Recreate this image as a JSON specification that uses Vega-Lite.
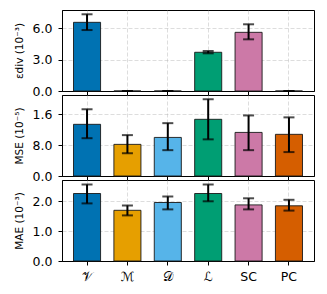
{
  "$schema": "https://vega.github.io/schema/vega-lite/v6.json",
  "padding": {"left": 13, "top": 9, "right": 9, "bottom": 2},
  "spacing": 4,
  "bounds": "flush",
  "config": {
    "font": "DejaVu Sans",
    "view": {"stroke": "#000000", "strokeWidth": 1},
    "axis": {
      "labelFont": "DejaVu Sans", "titleFont": "DejaVu Sans",
      "labelFontSize": 12.5, "titleFontSize": 10.5, "titleFontWeight": "normal",
      "labelColor": "#000000", "titleColor": "#000000",
      "tickColor": "#000000", "domainColor": "#000000", "tickSize": 4,
      "gridColor": "#b0b0b0", "gridOpacity": 0.55, "gridDash": [4, 2], "gridWidth": 0.8,
      "zindex": 1
    }
  },
  "datasets": {
    "m": [
      {"method": "𝒱", "ediv": 6.58, "ediv_lo": 5.84, "ediv_hi": 7.35, "mse": 13.4, "mse_lo": 9.8, "mse_hi": 17.3, "mae": 2.25, "mae_lo": 1.92, "mae_hi": 2.55},
      {"method": "ℳ", "ediv": 0, "ediv_lo": 0, "ediv_hi": 0, "mse": 8.2, "mse_lo": 5.9, "mse_hi": 10.6, "mae": 1.69, "mae_lo": 1.52, "mae_hi": 1.85},
      {"method": "𝒟", "ediv": 0, "ediv_lo": 0, "ediv_hi": 0, "mse": 10.0, "mse_lo": 6.7, "mse_hi": 13.7, "mae": 1.95, "mae_lo": 1.72, "mae_hi": 2.15},
      {"method": "ℒ", "ediv": 3.71, "ediv_lo": 3.61, "ediv_hi": 3.83, "mse": 14.7, "mse_lo": 9.5, "mse_hi": 19.9, "mae": 2.25, "mae_lo": 1.99, "mae_hi": 2.55},
      {"method": "SC", "ediv": 5.62, "ediv_lo": 4.95, "ediv_hi": 6.39, "mse": 11.3, "mse_lo": 6.7, "mse_hi": 15.7, "mae": 1.87, "mae_lo": 1.72, "mae_hi": 2.09},
      {"method": "PC", "ediv": 0, "ediv_lo": 0, "ediv_hi": 0, "mse": 10.8, "mse_lo": 6.2, "mse_hi": 15.2, "mae": 1.84, "mae_lo": 1.68, "mae_hi": 2.04}
    ]
  },
  "vconcat": [
    {
      "width": 252, "height": 81,
      "data": {"name": "m"},
      "encoding": {
        "x": {"field": "method", "type": "nominal", "sort": null,
          "scale": {"paddingInner": 0.33, "paddingOuter": 0.285},
          "axis": {"labels": false, "title": null, "grid": true, "bandPosition": 0.5, "ticks": true}}
      },
      "layer": [
        {"mark": {"type": "bar", "stroke": "#1a1a1a", "strokeWidth": 0.9},
         "encoding": {
           "y": {"field": "ediv", "type": "quantitative", "scale": {"domain": [0, 7.76], "nice": false},
             "axis": {"values": [0, 3, 6], "format": ".1f", "title": "εdiv  (10⁻³)", "titlePadding": 8, "labelPadding": 6, "grid": true}},
           "color": {"field": "method", "type": "nominal", "sort": null, "legend": null,
             "scale": {"range": ["#0072b2", "#e69f00", "#56b4e9", "#009e73", "#cc79a7", "#d55e00"]}}
         }},
        {"mark": {"type": "rule", "color": "#000000", "strokeWidth": 2},
         "encoding": {"y": {"field": "ediv_lo", "type": "quantitative"}, "y2": {"field": "ediv_hi"}}},
        {"mark": {"type": "tick", "color": "#000000", "size": 11, "thickness": 2},
         "encoding": {"y": {"field": "ediv_lo", "type": "quantitative"}}},
        {"mark": {"type": "tick", "color": "#000000", "size": 11, "thickness": 2},
         "encoding": {"y": {"field": "ediv_hi", "type": "quantitative"}}}
      ]
    },
    {
      "width": 252, "height": 81,
      "data": {"name": "m"},
      "encoding": {
        "x": {"field": "method", "type": "nominal", "sort": null,
          "scale": {"paddingInner": 0.33, "paddingOuter": 0.285},
          "axis": {"labels": false, "title": null, "grid": true, "bandPosition": 0.5, "ticks": true}}
      },
      "layer": [
        {"mark": {"type": "bar", "stroke": "#1a1a1a", "strokeWidth": 0.9},
         "encoding": {
           "y": {"field": "mse", "type": "quantitative", "scale": {"domain": [0, 21.0], "nice": false},
             "axis": {"values": [0, 8, 16], "labelExpr": "datum.value == 16 ? '1.6' : format(datum.value, '.1f')", "title": "MSE  (10⁻⁵)", "titlePadding": 8, "labelPadding": 6, "grid": true}},
           "color": {"field": "method", "type": "nominal", "sort": null, "legend": null,
             "scale": {"range": ["#0072b2", "#e69f00", "#56b4e9", "#009e73", "#cc79a7", "#d55e00"]}}
         }},
        {"mark": {"type": "rule", "color": "#000000", "strokeWidth": 2},
         "encoding": {"y": {"field": "mse_lo", "type": "quantitative"}, "y2": {"field": "mse_hi"}}},
        {"mark": {"type": "tick", "color": "#000000", "size": 11, "thickness": 2},
         "encoding": {"y": {"field": "mse_lo", "type": "quantitative"}}},
        {"mark": {"type": "tick", "color": "#000000", "size": 11, "thickness": 2},
         "encoding": {"y": {"field": "mse_hi", "type": "quantitative"}}}
      ]
    },
    {
      "width": 252, "height": 81,
      "data": {"name": "m"},
      "encoding": {
        "x": {"field": "method", "type": "nominal", "sort": null,
          "scale": {"paddingInner": 0.33, "paddingOuter": 0.285},
          "axis": {"labels": true, "labelAngle": 0, "labelPadding": 5, "title": null, "grid": true, "bandPosition": 0.5, "ticks": true}}
      },
      "layer": [
        {"mark": {"type": "bar", "stroke": "#1a1a1a", "strokeWidth": 0.9},
         "encoding": {
           "y": {"field": "mae", "type": "quantitative", "scale": {"domain": [0, 2.7], "nice": false},
             "axis": {"values": [0, 1, 2], "format": ".1f", "title": "MAE  (10⁻³)", "titlePadding": 8, "labelPadding": 6, "grid": true}},
           "color": {"field": "method", "type": "nominal", "sort": null, "legend": null,
             "scale": {"range": ["#0072b2", "#e69f00", "#56b4e9", "#009e73", "#cc79a7", "#d55e00"]}}
         }},
        {"mark": {"type": "rule", "color": "#000000", "strokeWidth": 2},
         "encoding": {"y": {"field": "mae_lo", "type": "quantitative"}, "y2": {"field": "mae_hi"}}},
        {"mark": {"type": "tick", "color": "#000000", "size": 11, "thickness": 2},
         "encoding": {"y": {"field": "mae_lo", "type": "quantitative"}}},
        {"mark": {"type": "tick", "color": "#000000", "size": 11, "thickness": 2},
         "encoding": {"y": {"field": "mae_hi", "type": "quantitative"}}}
      ]
    }
  ]
}
